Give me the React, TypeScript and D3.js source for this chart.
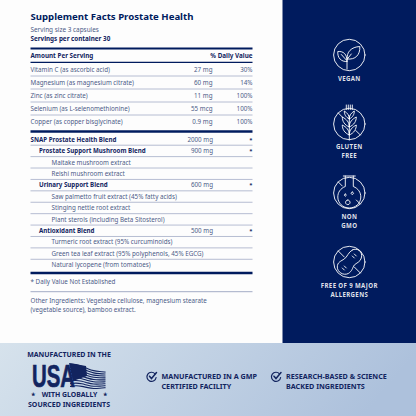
import React, { useEffect, useRef } from 'react';
import * as d3 from 'd3';

const NAVY = '#001b5e';
const BOLD = '#12245f';
const BODY = '#4c5b87';
const RULE = '#a3acc6';
const FONT = '"Noto Sans", sans-serif';

const nutrientNames = [
  'Vitamin C (as ascorbic acid)',
  'Magnesium (as magnesium citrate)',
  'Zinc (as zinc citrate)',
  'Selenium (as L-selenomethionine)',
  'Copper (as copper bisglycinate)',
];
const nutrientAmounts = ['27 mg', '60 mg', '11 mg', '55 mcg', '0.9 mg'];
const nutrientDaily = ['30%', '14%', '100%', '100%', '100%'];

const blendNames = [
  'SNAP Prostate Health Blend',
  'Prostate Support Mushroom Blend',
  'Maitake mushroom extract',
  'Reishi mushroom extract',
  'Urinary Support Blend',
  'Saw palmetto fruit extract (45% fatty acids)',
  'Stinging nettle root extract',
  'Plant sterols (including Beta Sitosterol)',
  'Antioxidant Blend',
  'Turmeric root extract (95% curcuminoids)',
  'Green tea leaf extract (95% polyphenols, 45% EGCG)',
  'Natural lycopene (from tomatoes)',
];
const blendLevels = [0, 1, 2, 2, 1, 2, 2, 2, 1, 2, 2, 2];
const blendAmounts = ['2000 mg', '900 mg', '', '', '600 mg', '', '', '', '500 mg', '', '', ''];

const badgeLabels = [['VEGAN'], ['GLUTEN', 'FREE'], ['NON', 'GMO'], ['FREE OF 9 MAJOR', 'ALLERGENS']];
const badgeIcons = [
  // leaves
  'M-2.3 14V4.5M-2 4C-3 -3 2 -8 10.5 -8.5C11 0 6 5 -2 4M-2.3 6.5C-8 7 -12 3 -11.5 -3.5C-6 -4 -2 -1 -2.3 6.5M2 -1L-2 4M-8 -0.5L-3 5',
  // wheat
  'M0 -8V16M-3 -19V-14.5M-1 -19V-14.5M1 -19V-14.5M3 -19V-14.5M0 -5C-4 -7 -5 -10 -5 -13C-2 -11 0 -9 0 -5C0 -9 2 -11 5 -13C5 -10 4 -7 0 -5M0 3C-5 1 -7 -3 -7 -7C-3 -5 0 -2 0 3C0 -2 3 -5 7 -7C7 -3 5 1 0 3M0 11C-5 9 -7 5 -7 1C-3 3 0 6 0 11C0 6 3 3 7 1C7 5 5 9 0 11M-11 -11L-6.5 -6.5M6.5 6.5L11 11',
  // flask
  'M-6 -17H6M-4 -17V-6.5C-9 -4.5 -11.5 -0.5 -11.5 4C-11.5 10 -6.5 15 0 15C6.5 15 11.5 10 11.5 4C11.5 -0.5 9 -4.5 4 -6.5V-17M-11 -11L-7 -7M7 7L11 11M-1.5 7a2.3 2.3 0 1 0 0.01 0M-4 1a1 1 0 1 0 0.01 0M3 -1a1.2 1.2 0 1 0 0.01 0',
  // peanut
  'M3 -12C8 -15 14 -10 12 -4C11 0 7 1 5 3C3 6 3 9 -1 11.5C-6 14 -12 10 -12 5C-12 0 -8 -1 -5 -3C-2 -5 -1 -10 3 -12M-11 -11L-5 -5M5 5L11 11M-5 4L-3 6M-7 6L-5 8M5 -8L7 -6M3 -6L5 -4',
];

const checkItems = [
  ['MANUFACTURED IN A GMP', 'CERTIFIED FACILITY'],
  ['RESEARCH-BASED & SCIENCE', 'BACKED INGREDIENTS'],
];

const flagStripes = [0, 1, 2, 3, 4, 5, 6, 7, 8];
const flagWave = [0, -1.2, -0.8, 0.5, 1.2, 0.5, -0.4];

export default function App() {
  const svgRef = useRef<SVGSVGElement>(null);

  useEffect(() => {
    if (!svgRef.current) return;
    d3.select(svgRef.current).selectAll('*').remove();
    const svg = d3.select(svgRef.current);

    const defs = svg.append('defs');
    const grad = defs.append('linearGradient').attr('id', 'foot').attr('x1', 0).attr('x2', 1).attr('y1', 0).attr('y2', 0.15);
    grad.append('stop').attr('offset', 0).attr('stop-color', '#d6e2ec');
    grad.append('stop').attr('offset', 1).attr('stop-color', '#adc1dc');

    svg.append('rect').attr('width', 416).attr('height', 416).attr('fill', '#fdfdfd');
    svg.append('rect').attr('x', 282.5).attr('width', 133.5).attr('height', 343).attr('fill', NAVY);
    svg.append('rect').attr('y', 343).attr('width', 416).attr('height', 73).attr('fill', 'url(#foot)');

    const text = (s: string, x: number, y: number, size: number, weight: number, fill: string, anchor = 'start', spacing = 0) =>
      svg.append('text').attr('x', x).attr('y', y).attr('dy', '0.35em')
        .attr('font-family', FONT).attr('font-size', size).attr('font-weight', weight)
        .attr('fill', fill).attr('text-anchor', anchor).attr('letter-spacing', spacing).text(s);
    const rule = (x1: number, y: number, w: number, color = RULE) =>
      svg.append('line').attr('x1', x1).attr('x2', 252.5).attr('y1', y).attr('y2', y).attr('stroke', color).attr('stroke-width', w);

    const REG = 6.25;

    // heading
    text('Supplement Facts Prostate Health', 30.5, 16.5, 9.6, 700, NAVY);
    text('Serving size 3 capsules', 30.5, 29.5, 6.4, 400, BODY);
    text('Servings per container 30', 30.5, 39, 6.3, 700, BOLD);
    rule(30.5, 48.5, 2.2, NAVY);
    text('Amount Per Serving', 30.5, 55.5, 6.3, 700, BOLD);
    text('% Daily Value', 252.5, 55.5, 6.3, 700, BOLD, 'end');
    rule(30.5, 62.3, 1.2, NAVY);

    // nutrient rows
    const yNutrient = d3.scalePoint<string>().domain(nutrientNames).range([69.5, 121.5]);
    const nutrientStep = yNutrient.step();
    nutrientNames.forEach((name, i) => {
      const y = yNutrient(name)!;
      text(name, 30.5, y, REG, 400, BODY);
      text(nutrientAmounts[i], 212.5, y, REG, 400, BODY, 'end');
      text(nutrientDaily[i], 252.5, y, REG, 400, BODY, 'end');
      if (i < nutrientNames.length - 1) rule(30.5, y + nutrientStep / 2, 0.8);
    });
    rule(30.5, 131.5, 2.6, NAVY);

    // blend rows
    const yBlend = d3.scalePoint<string>().domain(blendNames).range([139.5, 265]);
    const blendStep = yBlend.step();
    const indent = d3.scaleOrdinal<number, number>().domain([0, 1, 2]).range([30.5, 39, 51.5]);
    blendNames.forEach((name, i) => {
      const y = yBlend(name)!;
      const strong = blendLevels[i] < 2;
      text(name, indent(blendLevels[i]), y, strong ? 6.2 : REG, strong ? 700 : 400, strong ? BOLD : BODY);
      if (blendAmounts[i]) {
        text(blendAmounts[i], 213, y, REG, 400, BODY, 'end');
        text('*', 252.5, y, 6, 700, BOLD, 'end');
      }
      if (i < blendNames.length - 1) rule(30.5, y + blendStep / 2, 0.8);
    });
    rule(30.5, 273, 2.4, NAVY);

    text('* Daily Value Not Established', 30.5, 282, REG, 400, BODY);
    rule(30.5, 291.7, 1);
    text('Other Ingredients: Vegetable cellulose, magnesium stearate', 30.5, 301, REG, 400, BODY);
    text('(vegetable source), bamboo extract.', 30.5, 310, REG, 400, BODY);

    // right column badges
    const yBadge = d3.scalePoint<number>().domain(d3.range(badgeLabels.length)).range([55, 262]);
    const labelGap = [23.5, 23, 24, 23.5];
    badgeLabels.forEach((lines, i) => {
      const cy = yBadge(i)!;
      const cx = 349.3;
      const g = svg.append('g').attr('transform', `translate(${cx},${cy})`)
        .attr('fill', 'none').attr('stroke', '#ffffff').attr('stroke-width', 0.9).attr('stroke-linecap', 'round');
      g.append('circle').attr('r', 15.7);
      g.append('path').attr('d', badgeIcons[i]);
      lines.forEach((line, k) => {
        text(line, cx, cy + labelGap[i] + k * 9, 6.1, 700, '#ffffff', 'middle', 0.35).attr('fill-opacity', 0.88);
      });
    });

    // usa block
    text('MANUFACTURED IN THE', 69, 355, 7, 700, BOLD, 'middle');
    const flagX = d3.scaleLinear().domain([0, flagWave.length - 1]).range([70, 105.5]);
    const stripeTop = d3.scaleLinear().domain([0, 8]).range([364, 386.5]);
    const stripeEnd = d3.scaleLinear().domain([0, 8]).range([372.5, 388]);
    flagStripes.forEach(s => {
      const yAt = d3.scaleLinear().domain([0, flagWave.length - 1]).range([stripeTop(s), stripeEnd(s)]);
      const stripe = d3.line<number>().x((_, j) => flagX(j)).y((w, j) => yAt(j) + w).curve(d3.curveBasis);
      svg.append('path').attr('d', stripe(flagWave)!)
        .attr('fill', 'none').attr('stroke', BOLD).attr('stroke-width', 1.1);
    });
    svg.append('path').attr('d', 'M69 363L86 366L87 376L73 381Z').attr('fill', BOLD);
    svg.append('text').attr('x', 32).attr('y', 387)
      .attr('font-family', '"Liberation Sans Narrow", sans-serif').attr('font-weight', 700)
      .attr('font-size', 32).attr('fill', BOLD).attr('stroke', BOLD).attr('stroke-width', 0.7)
      .attr('textLength', 43).attr('lengthAdjust', 'spacingAndGlyphs').text('USA');
    text('★', 33, 394.6, 4.6, 700, BOLD, 'middle');
    text('WITH GLOBALLY', 69.5, 394.6, 6.9, 700, BOLD, 'middle');
    text('★', 105, 394.6, 4.6, 700, BOLD, 'middle');
    text('SOURCED INGREDIENTS', 69, 404.4, 7, 700, BOLD, 'middle');

    // check items
    const xCheck = d3.scalePoint<number>().domain([0, 1]).range([151.5, 276]);
    checkItems.forEach((lines, i) => {
      const cx = xCheck(i)!;
      const g = svg.append('g').attr('transform', `translate(${cx},377)`).attr('fill', 'none').attr('stroke', BOLD).attr('stroke-linecap', 'round');
      g.append('path').attr('stroke-width', 1.2).attr('d', 'M3.5 -3.2A4.6 4.6 0 1 0 4.6 0.5');
      g.append('path').attr('stroke-width', 1.5).attr('d', 'M-2 -0.8L0 1.6L5 -4.4');
      lines.forEach((line, k) => {
        text(line, cx + 10, 376.5 + k * 9.5, 7.2, 700, BOLD);
      });
    });
  }, []);

  return <svg ref={svgRef} width={416} height={416} style={{ position: 'fixed', left: 0, top: 0, display: 'block' }} />;
}
